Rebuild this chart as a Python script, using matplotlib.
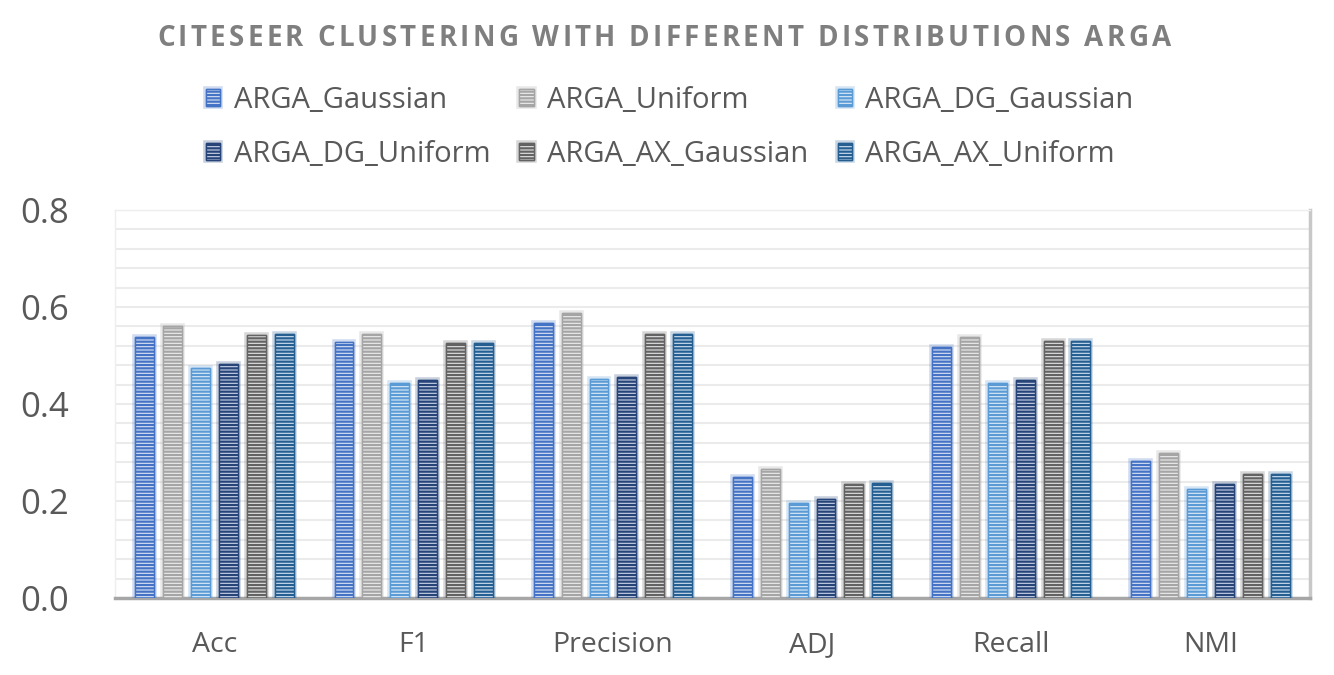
import matplotlib
matplotlib.use("Agg")
import matplotlib.pyplot as plt
import matplotlib.patheffects as pe
from matplotlib.textpath import TextPath
from matplotlib.font_manager import FontProperties
import numpy as np

categories = ["Acc", "F1", "Precision", "ADJ", "Recall", "NMI"]
series_names = ["ARGA_Gaussian", "ARGA_Uniform", "ARGA_DG_Gaussian",
                "ARGA_DG_Uniform", "ARGA_AX_Gaussian", "ARGA_AX_Uniform"]
arga_gaussian    = [0.538, 0.528, 0.567, 0.249, 0.518, 0.282]
arga_uniform     = [0.561, 0.544, 0.588, 0.266, 0.538, 0.299]
arga_dg_gaussian = [0.474, 0.443, 0.452, 0.196, 0.443, 0.225]
arga_dg_uniform  = [0.482, 0.449, 0.456, 0.204, 0.449, 0.235]
arga_ax_gaussian = [0.542, 0.526, 0.544, 0.235, 0.530, 0.256]
arga_ax_uniform  = [0.544, 0.526, 0.544, 0.237, 0.530, 0.256]
yticks = [0.0, 0.2, 0.4, 0.6, 0.8]
title = "CITESEER CLUSTERING WITH DIFFERENT DISTRIBUTIONS ARGA"

series = [arga_gaussian, arga_uniform, arga_dg_gaussian,
          arga_dg_uniform, arga_ax_gaussian, arga_ax_uniform]
dark = ["#4472C4", "#A5A5A5", "#5B9BD5", "#264478", "#636363", "#255E91"]
light = ["#DAE3F3", "#EDEDED", "#DEEBF7", "#C9D3E8", "#E4E4E4", "#CFE0F1"]

plt.rcParams['font.family'] = ['Open Sans', 'DejaVu Sans']
plt.rcParams['hatch.linewidth'] = 1.6

W, H = 1334, 675
fig = plt.figure(figsize=(W / 100, H / 100), dpi=100)
ax = fig.add_axes([0.0862, 0.114, 0.8958, 0.575])

x = np.arange(len(categories))
step = 0.14
width = 0.095
handles = []
for i, (vals, name) in enumerate(zip(series, series_names)):
    offs = (i - 2.5) * step
    bars = ax.bar(x + offs, vals, width, facecolor=light[i], edgecolor=dark[i],
                  hatch='-----', linewidth=1.0, label=name, zorder=3)
    for b in bars:
        b.set_path_effects([pe.withStroke(linewidth=4, foreground=dark[i], alpha=0.25),
                            pe.Normal()])
    handles.append(bars)

ax.set_xlim(-0.5, len(categories) - 0.5)
ax.set_ylim(0, 0.8)
ax.set_yticks(yticks)
ax.set_yticklabels([f"{t:.1f}" for t in yticks])
ax.set_yticks(np.arange(0, 0.801, 0.04), minor=True)
ax.grid(axis='y', which='both', color='#EBEBEB', linewidth=1.5, zorder=0)
ax.set_axisbelow(True)
ax.set_xticks(x)
ax.set_xticklabels(categories)
ax.tick_params(axis='y', which='both', length=0, labelsize=25, labelcolor='#595959', pad=33)
ax.tick_params(axis='x', length=0, labelsize=20.5, labelcolor='#595959', pad=24)

for s in ['top', 'left']:
    ax.spines[s].set_color('#EEEEEE')
    ax.spines[s].set_linewidth(1.0)
ax.spines['bottom'].set_color('#A6A6A6')
ax.spines['bottom'].set_linewidth(2.5)
ax.spines['right'].set_color('#C8C8C8')
ax.spines['right'].set_linewidth(2.5)

# Letter-spaced title
fp = FontProperties(family='Open Sans', weight='bold', size=20)
px_per_unit = 100 / 72.0
adv = []
bar_w = TextPath((0, 0), "|", prop=fp).get_extents().width
for c in title:
    tp = TextPath((0, 0), c + "|", prop=fp)
    adv.append((tp.get_extents().x1 - bar_w) * px_per_unit)
target_left, target_right = 157, 1177
natural = sum(adv)
extra = (target_right - target_left - natural) / (len(title) - 1)
xpos = target_left
for c, a in zip(title, adv):
    fig.text(xpos / W, 1 - 38 / H, c, ha='left', va='center', fontproperties=fp,
             color='#7F7F7F')
    xpos += a + extra

order = [0, 3, 1, 4, 2, 5]
fig.legend([handles[k] for k in order], [series_names[k] for k in order],
           loc='center', bbox_to_anchor=(0.502, 0.8111), ncol=3, frameon=False,
           fontsize=21, handlelength=0.5, handleheight=0.5, handletextpad=0.45,
           columnspacing=1.0, labelspacing=0.85, labelcolor='#595959')

fig.savefig("out.png", dpi=100)
